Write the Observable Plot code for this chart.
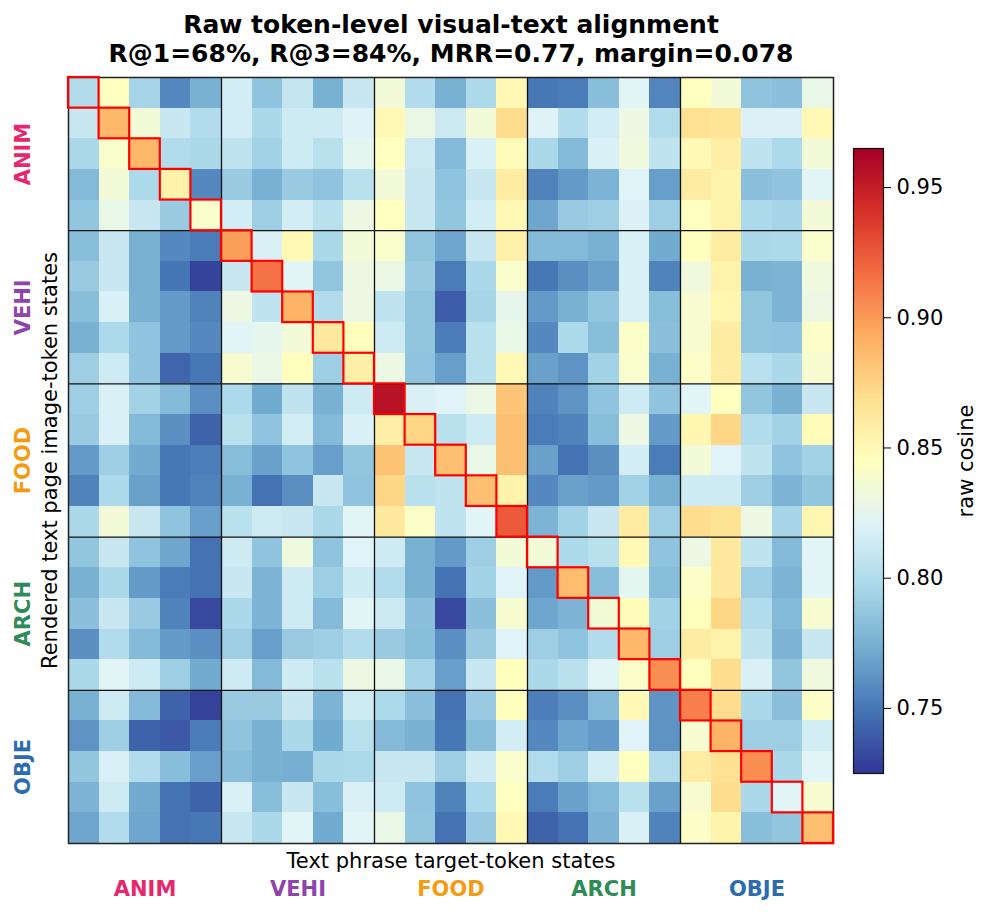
<!DOCTYPE html>
<html>
<head>
<meta charset="utf-8">
<script src="https://cdn.jsdelivr.net/npm/d3@7"></script>
<script src="https://cdn.jsdelivr.net/npm/@observablehq/plot@0.6"></script>
<style>
  html, body { margin: 0; padding: 0; background: #fff; }
  #fig { position: relative; width: 991px; height: 917px; font-family: "DejaVu Sans", sans-serif; }
  #fig svg { position: absolute; top: 0; }
</style>
</head>
<body>
<div id="fig"></div>
<script>
// ---- categories ----
const groups = ["ANIM", "VEHI", "FOOD", "ARCH", "OBJE"];
const groupColors = ["#e6266d", "#8e44ad", "#f39c12", "#2e8b57", "#2b6cb0"];

// ---- similarity rows (image-token state rows × text-phrase columns) ----
const anim1 = [0.800,0.845,0.795,0.757,0.775, 0.815,0.785,0.808,0.775,0.810, 0.835,0.800,0.775,0.798,0.850, 0.750,0.752,0.782,0.822,0.756, 0.845,0.835,0.785,0.783,0.828];
const anim2 = [0.810,0.888,0.835,0.810,0.800, 0.815,0.797,0.813,0.813,0.820, 0.850,0.829,0.812,0.835,0.870, 0.820,0.800,0.815,0.830,0.800, 0.868,0.866,0.819,0.819,0.850];
const anim3 = [0.797,0.840,0.888,0.800,0.797, 0.806,0.793,0.813,0.803,0.825, 0.845,0.812,0.780,0.818,0.848, 0.797,0.780,0.818,0.832,0.806, 0.850,0.858,0.806,0.798,0.835];
const anim4 = [0.780,0.835,0.798,0.855,0.757, 0.789,0.775,0.789,0.785,0.803, 0.835,0.810,0.785,0.810,0.860, 0.755,0.765,0.777,0.821,0.767, 0.860,0.855,0.783,0.785,0.822];
const anim5 = [0.786,0.828,0.810,0.789,0.840, 0.815,0.791,0.815,0.803,0.830, 0.845,0.810,0.786,0.815,0.850, 0.770,0.789,0.791,0.819,0.791, 0.845,0.855,0.798,0.795,0.835];

const vehi1 = [0.782,0.810,0.775,0.757,0.752, 0.898,0.818,0.850,0.797,0.835, 0.840,0.786,0.770,0.810,0.856, 0.780,0.780,0.775,0.818,0.772, 0.846,0.860,0.797,0.798,0.840];
const vehi2 = [0.789,0.810,0.775,0.749,0.730, 0.810,0.915,0.822,0.786,0.830, 0.829,0.789,0.752,0.797,0.840, 0.750,0.760,0.768,0.818,0.755, 0.832,0.855,0.775,0.777,0.832];
const vehi3 = [0.782,0.818,0.775,0.765,0.755, 0.830,0.806,0.890,0.800,0.830, 0.806,0.786,0.740,0.795,0.826, 0.765,0.775,0.786,0.818,0.782, 0.838,0.852,0.786,0.777,0.830];
const vehi4 = [0.775,0.798,0.785,0.765,0.757, 0.822,0.826,0.835,0.862,0.846, 0.813,0.786,0.752,0.803,0.828, 0.757,0.798,0.782,0.842,0.783, 0.838,0.860,0.786,0.785,0.842];
const vehi5 = [0.791,0.813,0.785,0.743,0.750, 0.838,0.829,0.846,0.791,0.857, 0.830,0.785,0.767,0.803,0.850, 0.768,0.762,0.793,0.840,0.775, 0.842,0.860,0.803,0.797,0.838];

const food1 = [0.791,0.818,0.793,0.780,0.760, 0.798,0.772,0.806,0.775,0.813, 0.956,0.818,0.821,0.829,0.882, 0.755,0.762,0.785,0.813,0.785, 0.822,0.845,0.786,0.775,0.810];
const food2 = [0.789,0.818,0.780,0.760,0.742, 0.803,0.785,0.815,0.780,0.818, 0.858,0.874,0.803,0.813,0.885, 0.752,0.755,0.782,0.830,0.765, 0.852,0.874,0.800,0.793,0.848];
const food3 = [0.765,0.791,0.772,0.750,0.753, 0.782,0.768,0.785,0.767,0.786, 0.883,0.810,0.885,0.828,0.885, 0.768,0.748,0.760,0.815,0.752, 0.835,0.821,0.806,0.785,0.793];
const food4 = [0.755,0.798,0.768,0.750,0.755, 0.775,0.748,0.760,0.810,0.785, 0.874,0.803,0.806,0.885,0.855, 0.757,0.768,0.765,0.793,0.775, 0.813,0.813,0.791,0.777,0.786];
const food5 = [0.797,0.835,0.810,0.785,0.767, 0.803,0.813,0.810,0.797,0.822, 0.862,0.842,0.806,0.822,0.925, 0.777,0.793,0.810,0.860,0.791, 0.870,0.867,0.830,0.795,0.852];

const arch1 = [0.786,0.810,0.785,0.770,0.748, 0.813,0.785,0.832,0.785,0.821, 0.813,0.775,0.765,0.791,0.835, 0.835,0.798,0.803,0.850,0.785, 0.830,0.862,0.806,0.780,0.822];
const arch2 = [0.775,0.797,0.765,0.752,0.748, 0.810,0.777,0.813,0.791,0.813, 0.800,0.775,0.748,0.793,0.821, 0.765,0.886,0.782,0.825,0.782, 0.842,0.862,0.791,0.777,0.822];
const arch3 = [0.783,0.810,0.789,0.755,0.732, 0.797,0.777,0.813,0.780,0.822, 0.812,0.783,0.732,0.783,0.838, 0.770,0.777,0.836,0.848,0.793, 0.846,0.874,0.800,0.780,0.838];
const arch4 = [0.760,0.800,0.780,0.765,0.760, 0.791,0.767,0.789,0.791,0.800, 0.789,0.782,0.760,0.789,0.821, 0.791,0.785,0.800,0.888,0.791, 0.860,0.855,0.806,0.777,0.810];
const arch5 = [0.797,0.822,0.813,0.791,0.772, 0.813,0.780,0.813,0.803,0.830, 0.828,0.795,0.767,0.810,0.846, 0.797,0.803,0.822,0.842,0.905, 0.846,0.870,0.818,0.786,0.832];

const obje1 = [0.775,0.813,0.780,0.742,0.730, 0.789,0.789,0.810,0.777,0.813, 0.798,0.783,0.748,0.789,0.846, 0.753,0.760,0.780,0.850,0.762, 0.910,0.870,0.797,0.783,0.842];
const obje2 = [0.762,0.791,0.742,0.738,0.752, 0.785,0.775,0.797,0.772,0.803, 0.780,0.775,0.750,0.782,0.815, 0.757,0.770,0.765,0.821,0.762, 0.838,0.890,0.791,0.791,0.815];
const obje3 = [0.786,0.818,0.800,0.782,0.767, 0.782,0.775,0.774,0.797,0.798, 0.810,0.810,0.791,0.813,0.840, 0.800,0.791,0.815,0.845,0.800, 0.860,0.868,0.905,0.797,0.822];
const obje4 = [0.777,0.813,0.772,0.748,0.742, 0.818,0.782,0.810,0.782,0.818, 0.813,0.785,0.755,0.798,0.845, 0.752,0.768,0.780,0.803,0.768, 0.838,0.870,0.797,0.822,0.838];
const obje5 = [0.770,0.800,0.770,0.748,0.750, 0.810,0.797,0.822,0.772,0.822, 0.828,0.786,0.748,0.789,0.850, 0.742,0.748,0.777,0.818,0.755, 0.842,0.855,0.782,0.786,0.885];

const rows = [anim1, anim2, anim3, anim4, anim5,
              vehi1, vehi2, vehi3, vehi4, vehi5,
              food1, food2, food3, food4, food5,
              arch1, arch2, arch3, arch4, arch5,
              obje1, obje2, obje3, obje4, obje5];

// ---- colour scale (matplotlib RdYlBu_r) ----
const vmin = 0.725, vmax = 0.965;
const palette = ["#313695","#4575b4","#74add1","#abd9e9","#e0f3f8","#ffffbf","#fee090","#fdae61","#f46d43","#d73027","#a50026"];
const colorStops = palette.map((_, i) => vmin + (vmax - vmin) * i / (palette.length - 1));
const cbTicks = [0.75, 0.80, 0.85, 0.90, 0.95];

const title1 = "Raw token-level visual-text alignment";
const title2 = "R@1=68%, R@3=84%, MRR=0.77, margin=0.078";
const xTitle = "Text phrase target-token states";
const yTitle = "Rendered text page image-token states";
const cbTitle = "raw cosine";

// ---- table built from arrays ----
const cells = [];
rows.forEach((row, r) => row.forEach((v, c) => cells.push({r, c, v})));
const diag = cells.filter(d => d.r === d.c);
const boundaries = [5, 10, 15, 20];

const colorOpts = {type: "linear", domain: colorStops, range: palette, interpolate: "rgb"};

const main = Plot.plot({
  width: 991, height: 917,
  marginLeft: 68, marginRight: 158, marginTop: 77, marginBottom: 74,
  x: {domain: [0, 25], axis: null},
  y: {domain: [0, 25], reverse: true, axis: null},
  color: colorOpts,
  style: {fontFamily: "DejaVu Sans", background: "white", overflow: "visible"},
  marks: [
    Plot.rect(cells, {x1: "c", x2: d => d.c + 1, y1: "r", y2: d => d.r + 1, fill: "v", shapeRendering: "crispEdges"}),
    Plot.ruleX(boundaries, {stroke: "#111", strokeWidth: 1.3}),
    Plot.ruleY(boundaries, {stroke: "#111", strokeWidth: 1.3}),
    Plot.frame({stroke: "#222", strokeWidth: 1.5}),
    Plot.rect(diag, {x1: "c", x2: d => d.c + 1, y1: "r", y2: d => d.r + 1, fill: "none", stroke: "#ff0000", strokeWidth: 2.2}),
    Plot.text([title1], {frameAnchor: "top", dy: -52.5, text: d => d, fontSize: 25, fontWeight: "bold", fill: "black", lineAnchor: "middle", textAnchor: "middle"}),
    Plot.text([title2], {frameAnchor: "top", dy: -23.5, text: d => d, fontSize: 25, fontWeight: "bold", fill: "black", lineAnchor: "middle", textAnchor: "middle"}),
    Plot.text([xTitle], {frameAnchor: "bottom", dy: 18, text: d => d, fontSize: 21, fill: "black", lineAnchor: "middle", textAnchor: "middle"}),
    Plot.text([yTitle], {frameAnchor: "left", dx: -18, text: d => d, fontSize: 21, fill: "black", rotate: -90, lineAnchor: "middle", textAnchor: "middle"}),
    Plot.text(groups, {x: (d, i) => i * 5 + 2.5, frameAnchor: "bottom", dy: 46, text: d => d, fontSize: 21, fontWeight: "bold", fill: (d, i) => groupColors[i], lineAnchor: "middle", textAnchor: "middle"}),
    Plot.text(groups, {y: (d, i) => i * 5 + 2.5, frameAnchor: "left", dx: -45, text: d => d, fontSize: 21, fontWeight: "bold", fill: (d, i) => groupColors[i], rotate: -90, lineAnchor: "middle", textAnchor: "middle"})
  ]
});
main.style.left = "0px";

const cb = Plot.plot({
  width: 151, height: 917,
  marginLeft: 13, marginRight: 108, marginTop: 148, marginBottom: 144,
  x: {domain: [0, 1], axis: null},
  y: {domain: [vmin, vmax]},
  color: colorOpts,
  style: {fontFamily: "DejaVu Sans", background: "transparent", overflow: "visible"},
  marks: [
    Plot.raster({fill: (x, y) => y, x1: 0, x2: 1, y1: vmin, y2: vmax, width: 1, height: 400}),
    Plot.frame({stroke: "#111", strokeWidth: 1.2}),
    Plot.axisY(cbTicks, {anchor: "right", tickSize: 7, tickPadding: 6, tickFormat: d => d.toFixed(2), fontSize: 21, label: null, stroke: "black", fill: "black"}),
    Plot.text([cbTitle], {frameAnchor: "right", dx: 83, text: d => d, fontSize: 21, fill: "black", rotate: -90, lineAnchor: "middle", textAnchor: "middle"})
  ]
});
cb.style.left = "840px";

document.getElementById("fig").append(main, cb);
</script>
</body>
</html>
